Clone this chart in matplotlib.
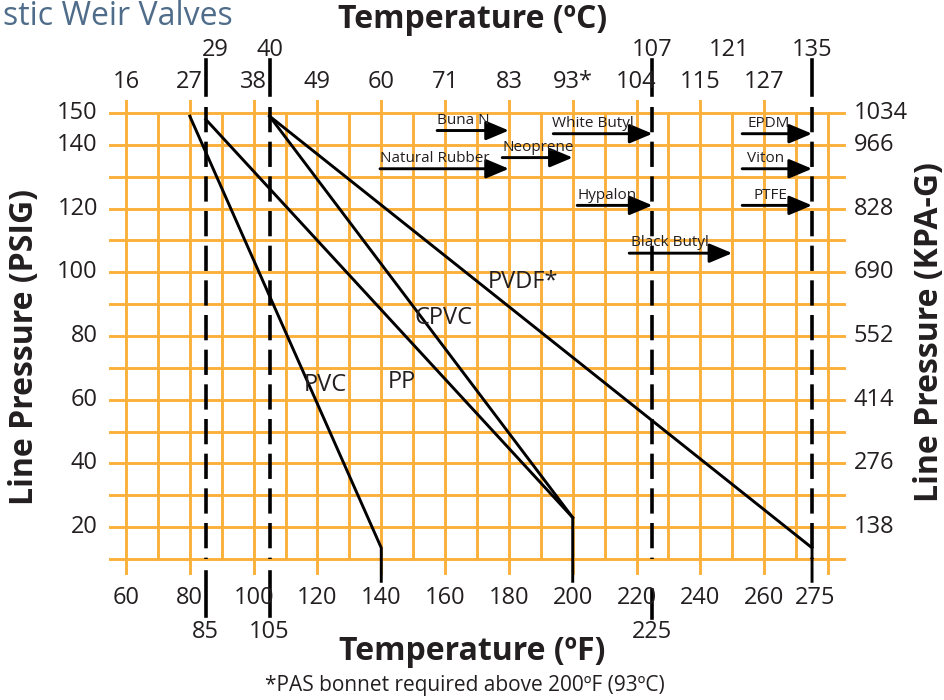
import matplotlib
matplotlib.use('Agg')
import matplotlib.pyplot as plt

plt.rcParams['font.family'] = ['Open Sans', 'DejaVu Sans']

# ---- data ----
major_f = [60, 80, 100, 120, 140, 160, 180, 200, 220, 240, 260]
bottom_labels = ['60', '80', '100', '120', '140', '160', '180', '200', '220', '240', '260']
top_c_labels = ['16', '27', '38', '49', '60', '71', '83', '93*', '104', '115', '127']

# dashed limit lines (F) and their C / F labels
limit_f = [85, 105, 225, 275]
limit_c_pos = [88, 105, 225, 249, 275]
limit_c_labels = ['29', '40', '107', '121', '135']
limit_f_labels = ['85', '105', '225']

psig_ticks = [150, 140, 120, 100, 80, 60, 40, 20]
kpa_labels = ['1034', '966', '828', '690', '552', '414', '276', '138']

pvc_f = [80, 140, 140]
pvc_psi = [149, 13.5, 3]
pp_f = [85, 200, 200]
pp_psi = [148, 23, 3]
cpvc_f = [105, 200]
cpvc_psi = [149, 23]
pvdf_f = [105, 275, 275]
pvdf_psi = [149, 13.5, 3]

curve_names = ['PVC', 'PP', 'CPVC', 'PVDF*']
curve_label_f = [122.5, 146.5, 159.5, 184.5]
curve_label_psi = [64.5, 65.5, 85.5, 97]

elast_names = ['Buna N', 'Natural Rubber', 'Neoprene', 'White Butyl', 'Hypalon',
               'Black Butyl', 'EPDM', 'Viton', 'PTFE']
elast_start = [157.5, 139.6, 177.9, 193.9, 201.4, 217.7, 253.1, 253.1, 253.1]
elast_end = [180, 180, 200, 225, 225, 250, 275, 275, 275]
elast_psi = [144.5, 132.5, 136, 143.5, 121, 106, 143.5, 132.5, 121]
elast_text_f = [157.5, 139.6, 177.9, 193.6, 201.4, 218.3, 254.7, 254.7, 256.6]

grid_c = '#fbb03b'
txt_c = '#231f20'
tick_fs = 17

fig = plt.figure(figsize=(9.45, 7), dpi=100)
ax = fig.add_axes([126/945, 141/700, 702/945, 446/700])
ax.set_xlim(60, 280)
ax.set_ylim(10, 150)
ax.axis('off')

# grid
for p in range(10, 151, 10):
  ax.plot([55, 285], [p, p], color=grid_c, lw=2.1, clip_on=False, zorder=1)
for f in range(70, 280, 20):
  ax.plot([f, f], [10, 150], color=grid_c, lw=2.1, clip_on=False, zorder=1)
for f in major_f:
  ax.plot([f, f], [5.6, 153.8], color=grid_c, lw=2.1, clip_on=False, zorder=1)
ax.plot([280, 280], [5.6, 150], color=grid_c, lw=2.1, clip_on=False, zorder=1)

# dashed limit lines
for f in limit_f:
  ax.plot([f, f], [152, 10], color='black', lw=2.6, ls=(0, (7, 2.6)), clip_on=False, zorder=3)
  ax.plot([f, f], [155.6, 166.6], color='black', lw=2.6, clip_on=False, zorder=3)
for f in limit_f[:2]:
  ax.plot([f, f], [5.9, -7.9], color='black', lw=2.6, clip_on=False, zorder=3)
ax.plot([225, 225], [0.3, -8.5], color='black', lw=2.6, clip_on=False, zorder=3)

# rating curves
for xs, ys in [(pvc_f, pvc_psi), (pp_f, pp_psi), (cpvc_f, cpvc_psi), (pvdf_f, pvdf_psi)]:
  ax.plot(xs, ys, color='black', lw=2.1, clip_on=False, zorder=4, solid_joinstyle='miter')
for name, x, y in zip(curve_names, curve_label_f, curve_label_psi):
  ax.text(x, y, name, fontsize=17, color=txt_c, ha='center', va='center', zorder=5)

# elastomer arrows
for name, x0, x1, y, tx in zip(elast_names, elast_start, elast_end, elast_psi, elast_text_f):
  ax.annotate('', xy=(x1, y), xytext=(x0, y),
              arrowprops=dict(arrowstyle='-|>,head_length=1.0,head_width=0.42', mutation_scale=14,
                              lw=2.1, color='black', shrinkA=0, shrinkB=0), zorder=5)
  ax.text(tx, y + 0.9, name, fontsize=11, color=txt_c, ha='left', va='bottom', zorder=5)

# tick labels
for f, lab in zip(major_f, bottom_labels):
  ax.text(f, -2.3, lab, fontsize=tick_fs, color=txt_c, ha='center', va='center')
ax.text(276, -2.3, '275', fontsize=tick_fs, color=txt_c, ha='center', va='center')
for f, lab in zip(limit_f[:3], limit_f_labels):
  ax.text(f, -12.8, lab, fontsize=tick_fs, color=txt_c, ha='center', va='center')
for f, lab in zip(major_f, top_c_labels):
  ax.text(f, 159.6, lab, fontsize=tick_fs, color=txt_c, ha='center', va='center')
for f, lab in zip(limit_c_pos, limit_c_labels):
  ax.text(f, 169.8, lab, fontsize=tick_fs, color=txt_c, ha='center', va='center')
for p, lab in zip(psig_ticks, kpa_labels):
  ax.text(51.2, p, str(p), fontsize=tick_fs, color=txt_c, ha='right', va='center')
  ax.text(288, p, lab, fontsize=tick_fs, color=txt_c, ha='left', va='center')

# titles
fig.text(0.003, 1 - 25/700, 'stic Weir Valves', fontsize=23, color='#4f6d8a', ha='left', va='baseline')
fig.text(473/945, 1 - 19/700, 'Temperature (ºC)', fontsize=23, fontweight='bold', color=txt_c,
         ha='center', va='center')
fig.text(472/945, 1 - 651/700, 'Temperature (ºF)', fontsize=23, fontweight='bold', color=txt_c,
         ha='center', va='center')
fig.text(465/945, 1 - 686/700, '*PAS bonnet required above 200ºF (93ºC)', fontsize=15, color=txt_c,
         ha='center', va='center')
fig.text(25/945, 1 - 347/700, 'Line Pressure (PSIG)', fontsize=23, fontweight='bold', color=txt_c,
         ha='center', va='center', rotation=90)
fig.text(930/945, 1 - 332/700, 'Line Pressure (KPA-G)', fontsize=23, fontweight='bold', color=txt_c,
         ha='center', va='center', rotation=90)

fig.savefig('out.png', dpi=100)
